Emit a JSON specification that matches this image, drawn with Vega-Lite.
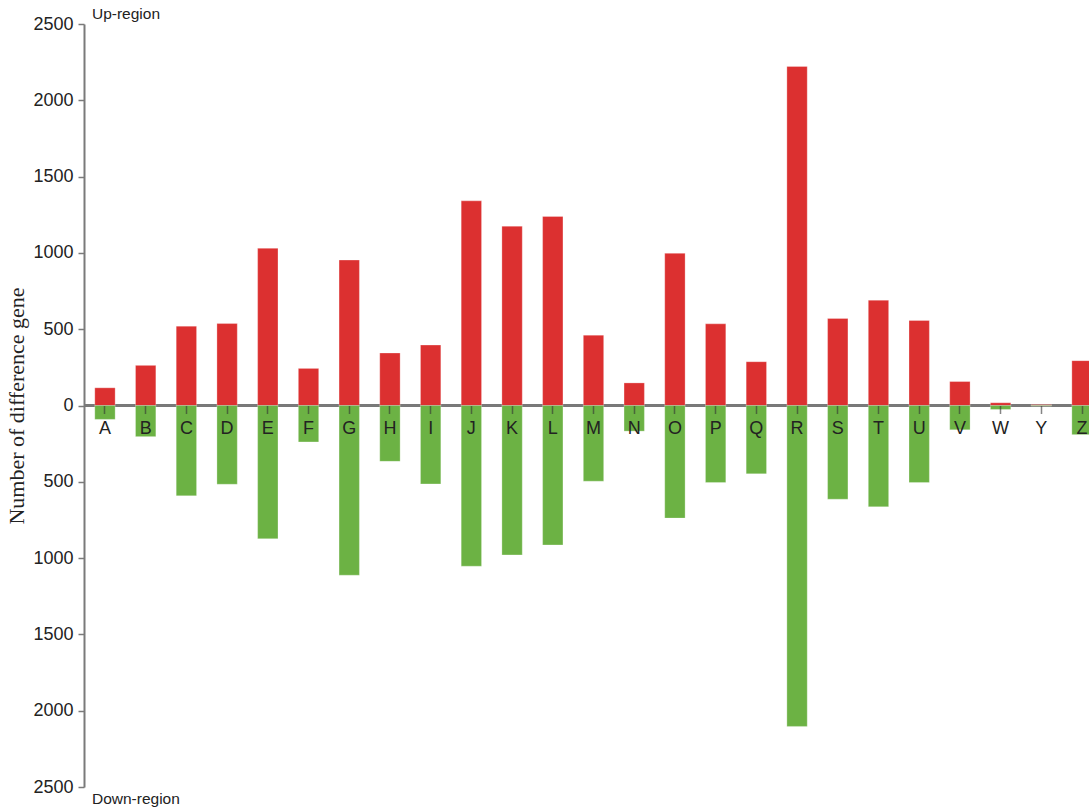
{
  "$schema": "https://vega.github.io/schema/vega-lite/v6.json",
  "autosize": {"type": "none"},
  "padding": {"left": 84, "top": 24, "right": 0, "bottom": 20},
  "width": 1005,
  "height": 763,
  "background": "white",
  "config": {
    "view": {"stroke": null},
    "font": "Liberation Sans"
  },
  "datasets": {
    "genes": [
      {"set": "A", "region": "Up", "count": 116}, {"set": "A", "region": "Down", "count": -91},
      {"set": "B", "region": "Up", "count": 263}, {"set": "B", "region": "Down", "count": -204},
      {"set": "C", "region": "Up", "count": 520}, {"set": "C", "region": "Down", "count": -592},
      {"set": "D", "region": "Up", "count": 537}, {"set": "D", "region": "Down", "count": -516},
      {"set": "E", "region": "Up", "count": 1030}, {"set": "E", "region": "Down", "count": -873},
      {"set": "F", "region": "Up", "count": 243}, {"set": "F", "region": "Down", "count": -239},
      {"set": "G", "region": "Up", "count": 953}, {"set": "G", "region": "Down", "count": -1112},
      {"set": "H", "region": "Up", "count": 344}, {"set": "H", "region": "Down", "count": -366},
      {"set": "I", "region": "Up", "count": 396}, {"set": "I", "region": "Down", "count": -514},
      {"set": "J", "region": "Up", "count": 1341}, {"set": "J", "region": "Down", "count": -1053},
      {"set": "K", "region": "Up", "count": 1175}, {"set": "K", "region": "Down", "count": -979},
      {"set": "L", "region": "Up", "count": 1239}, {"set": "L", "region": "Down", "count": -914},
      {"set": "M", "region": "Up", "count": 461}, {"set": "M", "region": "Down", "count": -496},
      {"set": "N", "region": "Up", "count": 148}, {"set": "N", "region": "Down", "count": -168},
      {"set": "O", "region": "Up", "count": 997}, {"set": "O", "region": "Down", "count": -738},
      {"set": "P", "region": "Up", "count": 535}, {"set": "P", "region": "Down", "count": -505},
      {"set": "Q", "region": "Up", "count": 287}, {"set": "Q", "region": "Down", "count": -448},
      {"set": "R", "region": "Up", "count": 2222}, {"set": "R", "region": "Down", "count": -2103},
      {"set": "S", "region": "Up", "count": 570}, {"set": "S", "region": "Down", "count": -614},
      {"set": "T", "region": "Up", "count": 690}, {"set": "T", "region": "Down", "count": -664},
      {"set": "U", "region": "Up", "count": 557}, {"set": "U", "region": "Down", "count": -505},
      {"set": "V", "region": "Up", "count": 157}, {"set": "V", "region": "Down", "count": -159},
      {"set": "W", "region": "Up", "count": 18}, {"set": "W", "region": "Down", "count": -26},
      {"set": "Y", "region": "Up", "count": 6}, {"set": "Y", "region": "Down", "count": -4},
      {"set": "Z", "region": "Up", "count": 294}, {"set": "Z", "region": "Down", "count": -191}
    ],
    "regionLabels": [
      {"label": "Up-region", "at": 2500, "anchorSet": "A"},
      {"label": "Down-region", "at": -2500, "anchorSet": "A"}
    ]
  },
  "data": {"name": "genes"},
  "layer": [
    {
      "mark": {"type": "rule", "color": "#7a7a7a", "strokeWidth": 1.5},
      "encoding": {
        "y": {"datum": 0, "type": "quantitative", "scale": {"domain": [-2500, 2500]}}
      }
    },
    {
      "mark": {"type": "bar", "stroke": "#ffffff", "strokeOpacity": 0.35, "strokeWidth": 0.8},
      "encoding": {
        "x": {
          "field": "set",
          "type": "nominal",
          "sort": null,
          "scale": {"range": [0, 1019], "paddingInner": 0.5, "paddingOuter": 0.265},
          "axis": {
            "title": null,
            "orient": "bottom",
            "offset": -381.5,
            "domain": false,
            "zindex": 1,
            "labelAngle": 0,
            "labelFontSize": 18,
            "labelColor": "#222222",
            "labelPadding": 6,
            "tickSize": 8,
            "tickWidth": 1.5,
            "tickColor": "#333333",
            "tickOpacity": 0.6
          }
        },
        "y": {
          "field": "count",
          "type": "quantitative",
          "scale": {"domain": [-2500, 2500], "nice": false},
          "axis": {
            "title": "Number of difference gene",
            "titleFont": "Liberation Serif",
            "titleFontSize": 22,
            "titleFontWeight": "normal",
            "titleColor": "#222222",
            "titlePadding": 4,
            "values": [-2500, -2000, -1500, -1000, -500, 0, 500, 1000, 1500, 2000, 2500],
            "labelExpr": "format(abs(datum.value), 'd')",
            "labelFontSize": 18,
            "labelColor": "#222222",
            "labelPadding": 5,
            "tickSize": 6,
            "tickWidth": 1.5,
            "tickColor": "#7a7a7a",
            "domainColor": "#7a7a7a",
            "domainWidth": 2,
            "grid": false
          }
        },
        "color": {
          "field": "region",
          "type": "nominal",
          "scale": {"domain": ["Up", "Down"], "range": ["#dc3030", "#6cb244"]},
          "legend": null
        }
      }
    },
    {
      "data": {"name": "regionLabels"},
      "transform": [{"filter": "datum.at > 0"}],
      "mark": {"type": "text", "align": "left", "baseline": "alphabetic", "fontSize": 15.5, "color": "#222222", "dx": -13, "dy": -5},
      "encoding": {
        "x": {"field": "anchorSet", "type": "nominal"},
        "y": {"field": "at", "type": "quantitative"},
        "text": {"field": "label"}
      }
    },
    {
      "data": {"name": "regionLabels"},
      "transform": [{"filter": "datum.at < 0"}],
      "mark": {"type": "text", "align": "left", "baseline": "middle", "fontSize": 15.5, "color": "#222222", "dx": -13, "dy": 11.5},
      "encoding": {
        "x": {"field": "anchorSet", "type": "nominal"},
        "y": {"field": "at", "type": "quantitative"},
        "text": {"field": "label"}
      }
    }
  ]
}
